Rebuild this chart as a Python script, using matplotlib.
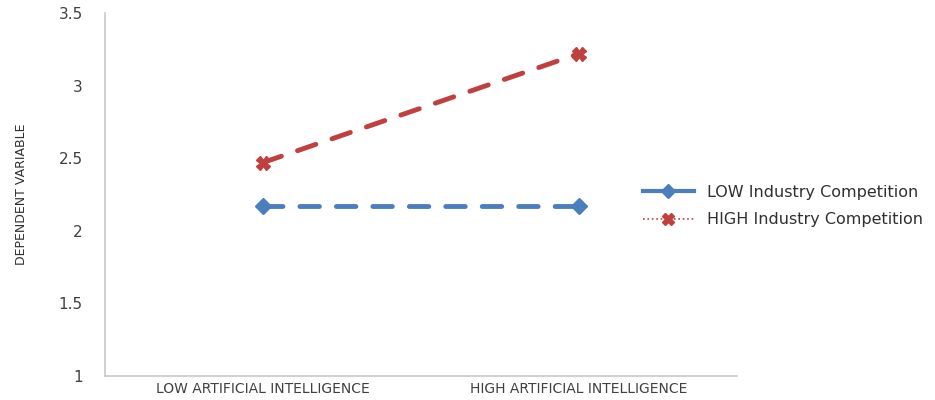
import matplotlib
matplotlib.use("Agg")
import matplotlib.pyplot as plt
from matplotlib.lines import Line2D

categories = ["LOW ARTIFICIAL INTELLIGENCE", "HIGH ARTIFICIAL INTELLIGENCE"]
low_comp = [2.17, 2.17]
high_comp = [2.47, 3.22]
series_names = ["LOW Industry Competition", "HIGH Industry Competition"]
yticks = [1, 1.5, 2, 2.5, 3, 3.5]
ytick_labels = ["1", "1.5", "2", "2.5", "3", "3.5"]

blue = "#4a7ebf"
red = "#c0403f"

fig = plt.figure(figsize=(9.35, 4.0), dpi=100)
ax = fig.add_axes([0.1123, 0.06, 0.676, 0.9075])

x = [0, 1]
ax.plot(x, low_comp, color=blue, lw=3.5, ls=(0, (4, 3.5)), dash_capstyle="round",
        marker="D", ms=8, mfc=blue, mec=blue)
ax.plot(x, high_comp, color=red, lw=3.5, ls=(0, (4, 3.5)), dash_capstyle="round",
        marker="X", ms=10, mfc=red, mec=red)

ax.set_xlim(-0.5, 1.5)
ax.set_ylim(1, 3.5)
ax.set_xticks(x)
ax.set_xticklabels(categories, fontsize=10, color="#404040")
ax.set_yticks(yticks)
ax.set_yticklabels(ytick_labels, fontsize=11, color="#404040")
ax.tick_params(length=0, pad=16)
ax.tick_params(axis="x", pad=4)
for s in ["top", "right"]:
    ax.spines[s].set_visible(False)
for s in ["left", "bottom"]:
    ax.spines[s].set_color("#c8c8c8")
    ax.spines[s].set_linewidth(1.2)

ax.set_ylabel("DEPENDENT VARIABLE", fontsize=9, color="#303030", labelpad=22)

handles = [
    Line2D([], [], color=blue, lw=3, ls="-", marker="D", ms=7),
    Line2D([], [], color=red, lw=1.2, ls=":", marker="X", ms=8),
]
fig.legend(handles, series_names, loc="center left", bbox_to_anchor=(0.672, 0.485),
           frameon=False, fontsize=11.5, handlelength=3.2, labelspacing=0.8,
           labelcolor="#303030")

fig.savefig("out.png", dpi=100)
